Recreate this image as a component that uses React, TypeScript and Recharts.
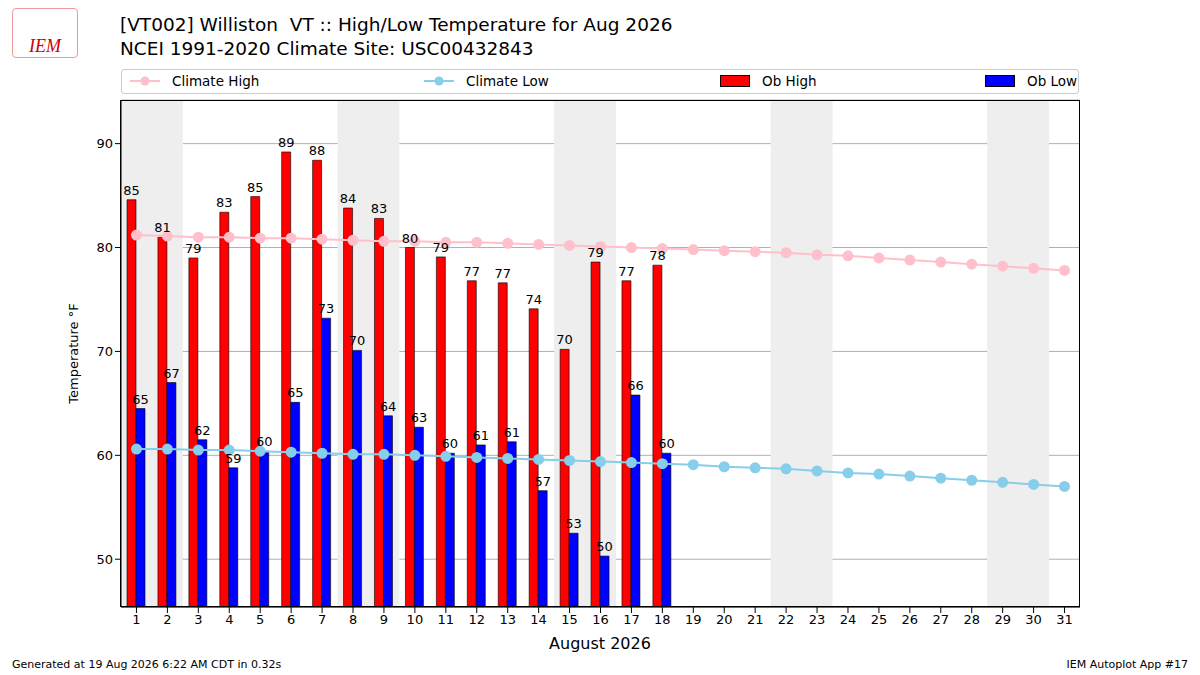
import { Bar, CartesianGrid, ComposedChart, LabelList, Line, ReferenceArea, XAxis, YAxis } from "recharts";

const days = Array.from({ length: 31 }, (_, i) => String(i + 1));
const obHigh = [84.6, 81.0, 79.0, 83.4, 84.9, 89.2, 88.4, 83.8, 82.8, 80.0, 79.1, 76.8, 76.6, 74.1, 70.2, 78.6, 76.8, 78.3];
const obLow = [64.5, 67.0, 61.5, 58.8, 60.4, 65.1, 73.2, 70.1, 63.8, 62.7, 60.2, 61.0, 61.3, 56.6, 52.5, 50.3, 65.8, 60.2];
const climateHigh = [81.2, 81.1, 81.0, 81.0, 80.9, 80.9, 80.8, 80.7, 80.6, 80.6, 80.5, 80.5, 80.4, 80.3, 80.2, 80.1, 80.0, 79.9, 79.8, 79.7, 79.6, 79.5, 79.3, 79.2, 79.0, 78.8, 78.6, 78.4, 78.2, 78.0, 77.8];
const climateLow = [60.6, 60.6, 60.5, 60.5, 60.4, 60.3, 60.2, 60.1, 60.1, 60.0, 59.9, 59.8, 59.7, 59.6, 59.5, 59.4, 59.3, 59.2, 59.1, 58.9, 58.8, 58.7, 58.5, 58.3, 58.2, 58.0, 57.8, 57.6, 57.4, 57.2, 57.0];
const weekends = [["1", "2"], ["8", "9"], ["15", "16"], ["22", "23"], ["29", "30"]];
const yTicks = [50, 60, 70, 80, 90];

const data = days.map((d, i) => ({
  day: d,
  obHigh: obHigh[i],
  obLow: obLow[i],
  climateHigh: climateHigh[i],
  climateLow: climateLow[i],
}));

const font = "DejaVu Sans, sans-serif";
const fmt = (v: any) => (v == null ? "" : Math.round(v));

function LegendItem({ color, label, marker, left }: { color: string; label: string; marker: boolean; left: number }) {
  return (
    <div style={{ position: "absolute", left, top: 3, display: "flex", alignItems: "center", fontSize: 13.5 }}>
      {marker ? (
        <svg width={30} height={14}>
          <line x1={0} y1={7} x2={30} y2={7} stroke={color} strokeWidth={2} />
          <circle cx={15} cy={7} r={4.5} fill={color} />
        </svg>
      ) : (
        <div style={{ width: 28, height: 10, background: color, border: "1px solid #000" }} />
      )}
      <span style={{ marginLeft: 12 }}>{label}</span>
    </div>
  );
}

export default function App() {
  return (
    <div style={{ position: "absolute", left: 0, top: 0, width: 1200, height: 675, fontFamily: font, background: "#fff" }}>
      <div style={{ position: "absolute", left: 12, top: 8, width: 64, height: 48, color: "#c00", fontStyle: "italic", fontSize: 18, fontFamily: "serif", display: "flex", alignItems: "flex-end", justifyContent: "center", border: "1px solid #e99", borderRadius: 4 }}>IEM</div>
      <div style={{ position: "absolute", left: 120, top: 13, fontSize: 18.5, lineHeight: "24px" }}>
        [VT002] Williston&nbsp; VT :: High/Low Temperature for Aug 2026<br />NCEI 1991-2020 Climate Site: USC00432843
      </div>
      <div style={{ position: "absolute", left: 121, top: 69, width: 958, height: 25, border: "1px solid #ccc", borderRadius: 3, boxSizing: "border-box" }}>
        <LegendItem color="#ffc0cb" label="Climate High" marker left={8} />
        <LegendItem color="#87ceeb" label="Climate Low" marker left={302} />
        <LegendItem color="#ff0000" label="Ob High" marker={false} left={598} />
        <LegendItem color="#0000ff" label="Ob Low" marker={false} left={863} />
      </div>
      <ComposedChart
        width={1200}
        height={675}
        data={data}
        margin={{ top: 100, right: 120, bottom: 38, left: 61 }}
        barGap={0}
        barCategoryGap={6}
        style={{ position: "absolute", left: 0, top: 0 }}
      >
        {weekends.map(([a, b]) => (
          <ReferenceArea key={a} x1={a} x2={b} fill="#eeeeee" fillOpacity={1} stroke="none" />
        ))}
        <CartesianGrid vertical={false} stroke="#b0b0b0" />
        <XAxis
          dataKey="day"
          height={30}
          tick={{ fill: "#000", fontSize: 13, fontFamily: font }}
          tickLine={{ stroke: "#000" }}
          axisLine={{ stroke: "#000" }}
        />
        <YAxis
          width={60}
          domain={[45.4, 94.2]}
          ticks={yTicks}
          allowDataOverflow
          tick={{ fill: "#000", fontSize: 13, fontFamily: font }}
          tickLine={{ stroke: "#000" }}
          axisLine={{ stroke: "#000" }}
          label={{ value: "Temperature °F", angle: -90, position: "insideLeft", offset: 12, fill: "#000", fontSize: 13, fontFamily: font, style: { textAnchor: "middle" } }}
        />
        <Bar dataKey="obHigh" fill="#ff0000" stroke="#000" strokeWidth={0.6} barSize={9} isAnimationActive={false}>
          <LabelList dataKey="obHigh" position="top" formatter={fmt} style={{ fill: "#000", fontSize: 13, fontFamily: font }} />
        </Bar>
        <Bar dataKey="obLow" fill="#0000ff" stroke="#000" strokeWidth={0.6} barSize={9} isAnimationActive={false}>
          <LabelList dataKey="obLow" position="top" formatter={fmt} style={{ fill: "#000", fontSize: 13, fontFamily: font }} />
        </Bar>
        <Line dataKey="climateHigh" stroke="#ffc0cb" strokeWidth={2} dot={{ r: 4.5, fill: "#ffc0cb", stroke: "#ffc0cb" }} isAnimationActive={false} />
        <Line dataKey="climateLow" stroke="#87ceeb" strokeWidth={2} dot={{ r: 4.5, fill: "#87ceeb", stroke: "#87ceeb" }} isAnimationActive={false} />
      </ComposedChart>
      <div style={{ position: "absolute", left: 120, top: 100, width: 960, height: 507, border: "1px solid #000", boxSizing: "border-box", pointerEvents: "none" }} />
      <div style={{ position: "absolute", left: 120, width: 960, top: 634, textAlign: "center", fontSize: 16 }}>August 2026</div>
      <div style={{ position: "absolute", left: 12, top: 658, fontSize: 11 }}>Generated at 19 Aug 2026 6:22 AM CDT in 0.32s</div>
      <div style={{ position: "absolute", right: 12, top: 658, fontSize: 11 }}>IEM Autoplot App #17</div>
    </div>
  );
}
